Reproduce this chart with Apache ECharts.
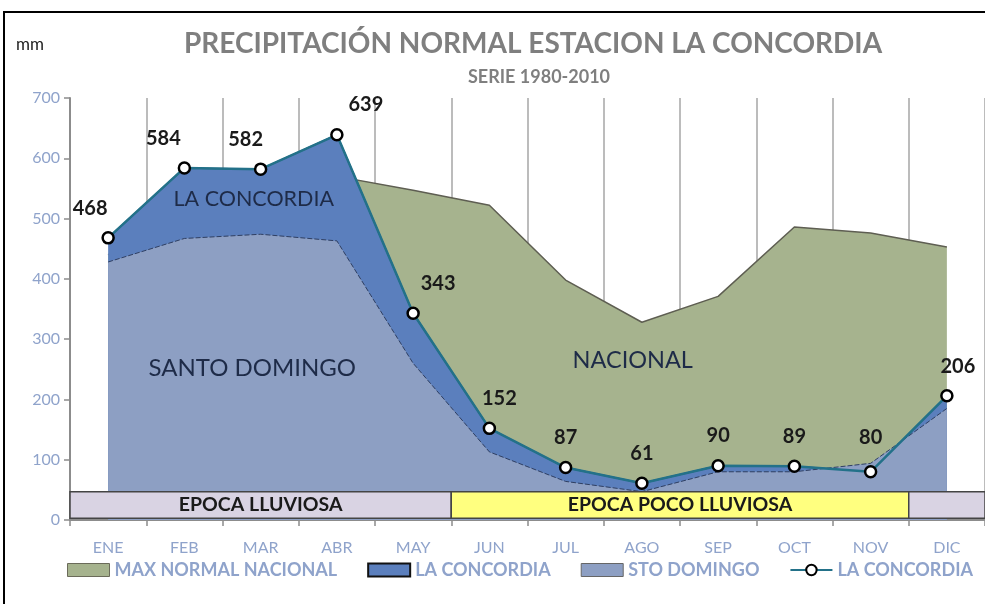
<!DOCTYPE html>
<html>
<head>
<meta charset="utf-8">
<script src="https://cdn.jsdelivr.net/npm/echarts@6/dist/echarts.min.js"></script>
<style>
  html, body { margin: 0; padding: 0; background: #fff; }
  #frame { position: absolute; left: 3px; top: 11px; width: 985px; height: 600px;
           border-left: 2px solid #000; border-top: 2px solid #000; pointer-events: none; z-index: 2; }
  #chart { position: absolute; left: 0; top: 0; width: 985px; height: 604px; }
</style>
</head>
<body>
<div id="chart"></div>
<div id="frame"></div>
<script>
// meses
const months = ['ENE', 'FEB', 'MAR', 'ABR', 'MAY', 'JUN', 'JUL', 'AGO', 'SEP', 'OCT', 'NOV', 'DIC'];
// precipitación normal (mm)
const maxNacional = [440, 540, 555, 570, 547, 522, 398, 328, 371, 486, 476, 453];
const laConcordia = [468, 584, 582, 639, 343, 152, 87, 61, 90, 89, 80, 206];
const stoDomingo = [428, 467, 474, 463, 260, 113, 64, 47, 80, 80, 94, 185];
// épocas (posición en meses: inicio, fin)
const epocas = [
  { name: 'EPOCA LLUVIOSA', from: 0, to: 5, color: '#D9D3E3' },
  { name: 'EPOCA POCO LLUVIOSA', from: 5, to: 11, color: '#FFFF7F' },
  { name: '', from: 11, to: 12, color: '#D9D3E3' }
];
const epocaTop = 47, epocaBottom = 3;

// desplazamiento de etiquetas de valores
const labelOffsets = [[-18, 0], [-21, 0], [-15, 0], [29, 0], [25, 0], [10, 0], [0, 0], [0, 0], [0, 0], [0, 0], [0, -4], [11, 0]];
// textos dentro de las áreas
const areaTexts = [
  { text: 'LA CONCORDIA', x: 2.41, y: 532, size: 21.5 },
  { text: 'SANTO DOMINGO', x: 2.39, y: 252, size: 24 },
  { text: 'NACIONAL', x: 7.38, y: 265, size: 23.5 }
];

const font = 'Lato';
const axisBlue = '#8FA3CB';

const chart = echarts.init(document.getElementById('chart'));
const option = {
  animation: false,
  textStyle: { fontFamily: font },
  title: [
    {
      text: 'PRECIPITACIÓN NORMAL ESTACION LA CONCORDIA',
      left: 528, top: 25, textAlign: 'center',
      textStyle: { fontFamily: font, fontSize: 28, fontWeight: 'bold', color: '#7F7F7F' }
    },
    {
      text: 'SERIE 1980-2010',
      left: 534, top: 63, textAlign: 'center',
      textStyle: { fontFamily: font, fontSize: 18, fontWeight: 'bold', color: '#7F7F7F' }
    },
    {
      text: 'mm',
      left: 11, top: 31,
      textStyle: { fontFamily: font, fontSize: 17, fontWeight: 'normal', color: '#222' }
    }
  ],
  legend: {
    left: 62, top: 556,
    itemWidth: 42, itemHeight: 13, itemGap: 30,
    textStyle: { fontFamily: font, fontSize: 18, fontWeight: 'bold', color: axisBlue },
    formatter: n => n.trim(),
    data: [
      { name: 'MAX NORMAL NACIONAL', icon: 'rect', itemStyle: { color: '#A6B38E', borderColor: '#6b6b5a', borderWidth: 1 } },
      { name: 'LA CONCORDIA', icon: 'rect', itemStyle: { color: '#5B7FBD', borderColor: '#111', borderWidth: 2 } },
      { name: 'STO DOMINGO', icon: 'rect', itemStyle: { color: '#8D9FC3', borderColor: '#666', borderWidth: 1 } },
      { name: 'LA CONCORDIA ' }
    ]
  },
  grid: { left: 70, right: 0, top: 98, bottom: 84 },
  xAxis: [
    {
      type: 'category', data: months, boundaryGap: true,
      axisLine: { lineStyle: { color: '#8C8C8C', width: 2 } },
      axisTick: { show: true, length: 6, lineStyle: { color: '#8C8C8C', width: 1.5 } },
      splitLine: { show: true, lineStyle: { color: '#A6A6A6', width: 1.5 } },
      axisLabel: { color: axisBlue, fontSize: 16, margin: 20, fontFamily: font }
    },
    { type: 'value', min: 0, max: 12, show: false }
  ],
  yAxis: {
    type: 'value', min: 0, max: 700, interval: 100,
    axisLine: { show: true, lineStyle: { color: '#8C8C8C', width: 2 } },
    axisTick: { show: true, length: 6, lineStyle: { color: '#8C8C8C', width: 1.5 } },
    splitLine: { show: false },
    axisLabel: { color: axisBlue, fontSize: 16, margin: 10, fontFamily: font }
  },
  series: [
    {
      name: 'MAX NORMAL NACIONAL', type: 'line', data: maxNacional, z: 1,
      symbol: 'none',
      lineStyle: { color: '#5E5E52', width: 1.5 },
      itemStyle: { color: '#A6B38E' },
      areaStyle: { color: '#A6B38E', opacity: 1 }
    },
    {
      name: 'LA CONCORDIA', type: 'line', data: laConcordia, z: 2,
      symbol: 'none',
      lineStyle: { color: '#1F5E78', width: 1.5 },
      itemStyle: { color: '#5B7FBD' },
      areaStyle: { color: '#5B7FBD', opacity: 1 }
    },
    {
      name: 'STO DOMINGO', type: 'line', data: stoDomingo, z: 3,
      symbol: 'none',
      lineStyle: { color: '#2F3F62', width: 1, type: [5, 2] },
      itemStyle: { color: '#8D9FC3' },
      areaStyle: { color: '#8D9FC3', opacity: 1 }
    },
    {
      name: 'LA CONCORDIA ', type: 'line', z: 6,
      data: laConcordia.map((v, i) => ({
        value: v,
        label: { offset: labelOffsets[i] }
      })),
      symbol: 'circle', symbolSize: 11,
      lineStyle: { color: '#237189', width: 2.5 },
      itemStyle: { color: '#fff', borderColor: '#000', borderWidth: 2.5 },
      label: {
        show: true, position: 'top', distance: 13,
        color: '#1a1a1a', fontSize: 20, fontWeight: 'bold', fontFamily: font
      }
    },
    {
      name: 'epocas', type: 'line', xAxisIndex: 1, data: [], z: 5,
      markArea: {
        silent: true, z: 10,
        data: epocas.map(e => [
          {
            name: e.name, xAxis: e.from, yAxis: epocaBottom,
            itemStyle: { color: e.color, borderColor: '#444', borderWidth: 1.5 }
          },
          { xAxis: e.to, yAxis: epocaTop }
        ]),
        label: {
          show: true, position: 'inside',
          color: '#1a1a1a', fontSize: 19.5, fontWeight: 'bold', fontFamily: font
        }
      },
      markPoint: {
        silent: true, symbol: 'circle', symbolSize: 0, z: 10,
        data: areaTexts.map(t => ({
          coord: [t.x, t.y],
          label: { show: true, formatter: t.text, fontSize: t.size, color: '#1E2B48', fontFamily: font, position: 'inside' }
        }))
      }
    }
  ]
};
chart.setOption(option);
</script>
</body>
</html>
